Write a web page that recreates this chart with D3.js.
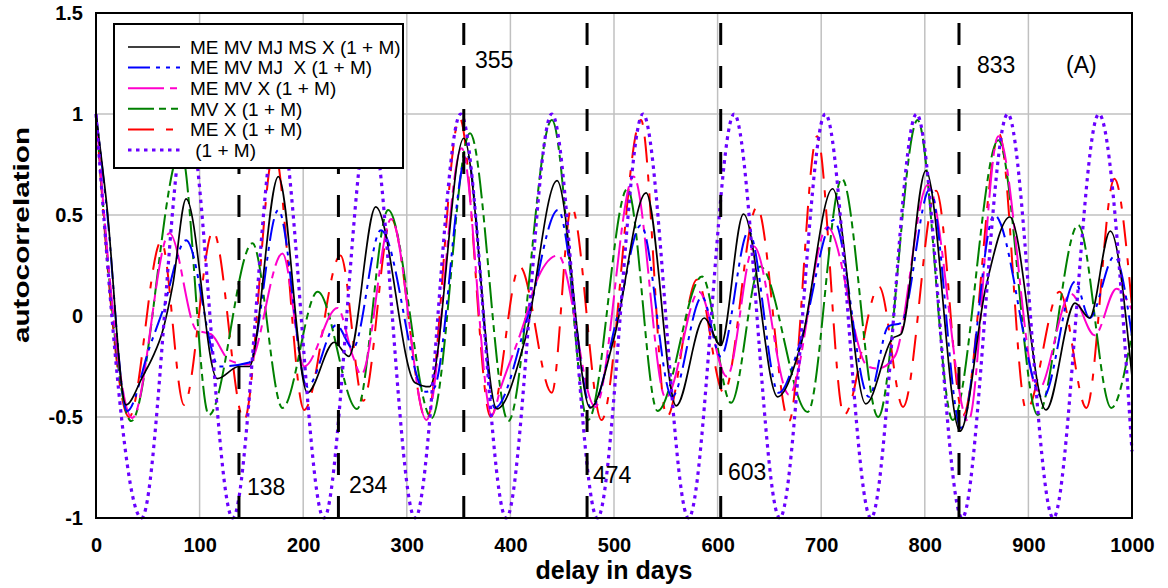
<!DOCTYPE html>
<meta charset="utf-8">
<style>
body { margin: 0; background: #fff; }
svg { display: block; font-family: Arial, "Liberation Sans", sans-serif; }
.tick text { font-size: 20px; font-weight: bold; fill: #000; }
.grid line { stroke: #c0c0c0; stroke-width: 1.5; }
.curve { fill: none; }
</style>
<body>
<script src="https://d3js.org/d3.v7.min.js"></script>
<script>

// ticks
var xTicks = [0, 100, 200, 300, 400, 500, 600, 700, 800, 900, 1000];
var yTicks = [-1, -0.5, 0, 0.5, 1, 1.5];

// marked delays (days)
var marks = [138, 234, 355, 474, 603, 833];

// series: [day, autocorrelation] at turning points
var meMvMjMs = [[0,1],[10,0.57],[29,-0.44],[45,-0.30],[55,-0.2],[64,-0.08],[74,0.15],[87,0.58],[117,-0.31],[138,-0.25],[148,-0.25],
  [176,0.69],[204,-0.38],[230,-0.13],[244,-0.2],[270,0.54],[308,-0.33],[322,-0.35],[355,0.88],[387,-0.46],[414,-0.12],
  [445,0.67],[477,-0.455],[500,-0.11],[531,0.61],[560,-0.445],[587,-0.01],[603,-0.145],[625,0.505],[658,-0.40],[680,-0.15],
  [711,0.63],[743,-0.435],[769,-0.11],[777,-0.09],[801,0.72],[834,-0.57],[859,0.145],[882,0.49],[917,-0.465],[945,0.064],
  [959,-0.01],[979,0.42],[1000,-0.30]];

var meMvMj = [[0,1],[10,0.55],[30,-0.47],[52,-0.15],[64,0.02],[87,0.375],[119,-0.25],[148,-0.23],[176,0.525],[204,-0.35],
  [232,-0.045],[248,-0.16],[275,0.425],[318,-0.375],[326,-0.36],[358,0.80],[385,-0.455],[417,0.0],[446,0.525],[478,-0.455],
  [504,0.015],[526,0.45],[556,-0.40],[585,0.095],[603,-0.2],[630,0.42],[659,-0.38],[681,-0.11],[712,0.475],[746,-0.40],
  [765,-0.05],[777,-0.035],[805,0.63],[835,-0.555],[867,0.50],[914,-0.405],[945,0.17],[959,-0.01],[983,0.295],[1000,-0.1]];

var meMv = [[0,1],[35,-0.505],[71,0.41],[97,-0.07],[111,-0.09],[129,-0.22],[147,-0.24],[180,0.31],[201,-0.25],[233,0.04],
  [248,-0.2],[256,-0.29],[285,0.48],[319,-0.515],[353,0.83],[382,-0.49],[391,-0.35],[414,-0.02],[425,0.17],[446,0.30],
  [482,-0.45],[519,0.69],[550,-0.405],[582,0.12],[609,-0.30],[635,0.345],[669,-0.39],[706,0.44],[745,-0.25],[755,-0.26],
  [771,-0.2],[803,0.65],[842,-0.52],[871,0.89],[909,-0.37],[941,0.11],[964,-0.095],[985,0.135],[1000,0.03]];

var mv = [[0,1],[34,-0.52],[82,0.82],[109,-0.49],[151,0.36],[180,-0.455],[214,0.12],[252,-0.46],[282,0.525],[324,-0.505],
  [361,0.905],[398,-0.52],[440,0.97],[475,-0.515],[513,0.63],[542,-0.47],[585,0.195],[613,-0.43],[641,0.245],[687,-0.475],
  [720,0.68],[755,-0.5],[793,0.97],[827,-0.515],[871,0.87],[909,-0.49],[948,0.45],[980,-0.455],[1000,-0.085]];

var me = [[0,1],[32,-0.5],[63,0.37],[85,-0.44],[113,0.42],[143,-0.515],[172,0.82],[201,-0.465],[236,0.30],[258,-0.42],
  [285,0.48],[319,-0.515],[351,0.98],[381,-0.5],[409,0.245],[440,-0.38],[459,0.54],[488,-0.515],[526,0.97],[551,-0.50],
  [580,0.18],[606,-0.38],[638,0.54],[669,-0.52],[696,0.89],[722,-0.49],[756,0.145],[779,-0.45],[811,0.62],[837,-0.49],
  [872,0.90],[898,-0.465],[930,0.12],[956,-0.455],[983,0.68],[1000,0.045]];

var onePlusM = [[0,1],[44,-1],[88,1],[132,-1],[176,1],[220,-1],[264,1],[308,-1],[352,1],[396,-1],[440,1],[484,-1],
  [528,1],[572,-1],[616,1],[660,-1],[704,1],[748,-1],[792,1],[836,-1],[880,1],[924,-1],[968,1],[1000,-0.67]];

var series = [
  {name: "ME MV MJ MS X (1 + M)", data: meMvMjMs, color: "#000000", width: 1.7, dash: null},
  {name: "ME MV MJ  X (1 + M)",   data: meMvMj,   color: "#0000ff", width: 2,   dash: "22,6,4,6,4,6"},
  {name: "ME MV X (1 + M)",       data: meMv,     color: "#ff00cc", width: 2,   dash: "36,6,7,6"},
  {name: "MV X (1 + M)",          data: mv,       color: "#008000", width: 2,   dash: "26,5,7,5,7,5"},
  {name: "ME X (1 + M)",          data: me,       color: "#ff0000", width: 2,   dash: "26,12,7,12"},
  {name: " (1 + M)",              data: onePlusM, color: "#6a00ff", width: 3.2, dash: "3.5,4.5"}
];

var W = 1168, H = 588;
var x = d3.scaleLinear().domain([0, 1000]).range([96, 1132]);
var y = d3.scaleLinear().domain([-1, 1.5]).range([518, 13]);

var svg = d3.select("body").append("svg")
    .attr("width", W)
    .attr("height", H);

// grid
var grid = svg.append("g").attr("class", "grid");
grid.selectAll(".gx").data(xTicks.slice(1, -1)).enter().append("line")
    .attr("x1", function(d) { return x(d); }).attr("x2", function(d) { return x(d); })
    .attr("y1", y(-1)).attr("y2", y(1.5));
grid.selectAll(".gy").data(yTicks.slice(1, -1)).enter().append("line")
    .attr("x1", x(0)).attr("x2", x(1000))
    .attr("y1", function(d) { return y(d); }).attr("y2", function(d) { return y(d); });

// curves, purple on top
var line = d3.line()
    .x(function(d) { return x(d[0]); })
    .y(function(d) { return y(d[1]); })
    .curve(d3.curveMonotoneX);

var order = [4, 3, 2, 1, 0, 5];
svg.append("g").selectAll("path")
    .data(order.map(function(i) { return series[i]; }))
  .enter().append("path")
    .attr("class", "curve")
    .attr("d", function(d) { return line(d.data); })
    .attr("stroke", function(d) { return d.color; })
    .attr("stroke-width", function(d) { return d.width; })
    .attr("stroke-dasharray", function(d) { return d.dash; });

// vertical markers, dash pattern starts from the bottom
svg.append("g").selectAll("line")
    .data(marks)
  .enter().append("line")
    .attr("x1", function(d) { return x(d); }).attr("x2", function(d) { return x(d); })
    .attr("y1", y(-1)).attr("y2", y(1.47))
    .attr("stroke", "#000")
    .attr("stroke-width", 3)
    .attr("stroke-dasharray", "22,21");

// frame
svg.append("rect")
    .attr("x", x(0)).attr("y", y(1.5))
    .attr("width", x(1000) - x(0)).attr("height", y(-1) - y(1.5))
    .attr("fill", "none").attr("stroke", "#000").attr("stroke-width", 2);

// axes
var xAxis = d3.axisBottom(x).tickValues(xTicks).tickSize(0).tickPadding(20).tickFormat(d3.format("d"));
var yAxis = d3.axisLeft(y).tickValues(yTicks).tickSize(0).tickPadding(13).tickFormat(function(d) { return String(d); });

svg.append("g").attr("transform", "translate(0," + y(-1) + ")").call(xAxis)
    .call(function(g) { g.select(".domain").remove(); });
svg.append("g").attr("transform", "translate(" + x(0) + ",0)").call(yAxis)
    .call(function(g) { g.select(".domain").remove(); });

svg.append("text")
    .attr("x", (x(0) + x(1000)) / 2).attr("y", 579)
    .attr("text-anchor", "middle")
    .style("font-size", "25px").style("font-weight", "bold")
    .text("delay in days");

svg.append("text")
    .attr("transform", "translate(29,235) rotate(-90) scale(1.35,1)")
    .attr("text-anchor", "middle")
    .style("font-size", "22px").style("font-weight", "bold")
    .text("autocorrelation");

// legend
var legend = svg.append("g");
legend.append("rect")
    .attr("x", 114).attr("y", 24).attr("width", 289).attr("height", 144)
    .attr("fill", "#fff").attr("stroke", "#000").attr("stroke-width", 2);

var item = legend.selectAll(".item")
    .data(series)
  .enter().append("g")
    .attr("transform", function(d, i) { return "translate(0," + (47 + i * 20.6) + ")"; });

item.append("line")
    .attr("x1", 128).attr("x2", 180)
    .attr("stroke", function(d) { return d.color; })
    .attr("stroke-width", function(d) { return d.width; })
    .attr("stroke-dasharray", function(d) { return d.dash; });

item.append("text")
    .attr("x", 190).attr("dy", "0.36em")
    .style("font-size", "19px")
    .style("white-space", "pre")
    .attr("xml:space", "preserve")
    .text(function(d) { return d.name; });

// annotations
var notes = [
  {t: "138", x: 247, y: 495}, {t: "234", x: 349, y: 493}, {t: "355", x: 475, y: 68},
  {t: "474", x: 593, y: 483}, {t: "603", x: 728, y: 480}, {t: "833", x: 977, y: 73},
  {t: "(A)", x: 1066, y: 73}
];
svg.append("g").selectAll("text")
    .data(notes)
  .enter().append("text")
    .attr("x", function(d) { return d.x; })
    .attr("y", function(d) { return d.y; })
    .style("font-size", "23px")
    .text(function(d) { return d.t; });

</script>
</body>
</html>
